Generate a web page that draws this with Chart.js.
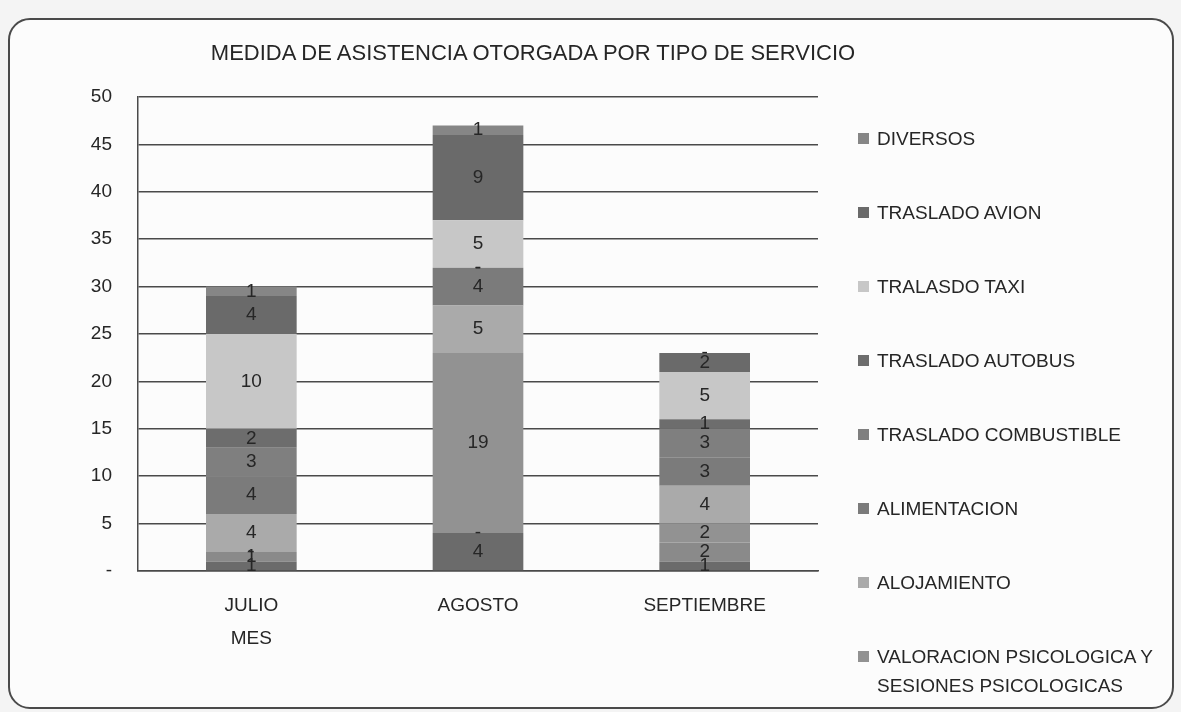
<!DOCTYPE html>
<html lang="es">
<head>
<meta charset="utf-8">
<title>Medida de asistencia otorgada por tipo de servicio</title>
<script src="https://cdn.jsdelivr.net/npm/chart.js@4.4.1/dist/chart.umd.min.js"></script>
<style>
    html, body { margin: 0; padding: 0; background: #f4f4f4; }
    #marco { position: absolute; left: 0; top: 0; width: 1181px; height: 712px; overflow: hidden;
             font-family: "Liberation Sans", Arial, sans-serif; color: #262626; }
    #borde { position: absolute; left: 8px; top: 18px; width: 1162px; height: 687px;
             border: 2px solid #4a4a4a; border-radius: 22px; background: #fcfcfc; }
    #grafico { position: absolute; left: 0; top: 0; }
    #titulo { position: absolute; left: 0; width: 1066px; top: 41px; text-align: center;
              font-size: 22px; line-height: 24px; }
    .item { position: absolute; left: 858px; display: flex; align-items: flex-start;
            font-size: 19px; line-height: 29px; }
    .item i { flex: none; display: block; width: 11px; height: 11px; margin: 9px 8px 0 0; }
</style>
</head>
<body>
<div id="marco">
    <div id="borde"></div>
    <canvas id="grafico" width="1181" height="712"></canvas>
    <div id="titulo">MEDIDA DE ASISTENCIA OTORGADA POR TIPO DE SERVICIO</div>
    <div id="leyenda"></div>
</div>
<script>
    // ---------------- Datos ----------------
    const meses = [['JULIO', 'MES'], 'AGOSTO', 'SEPTIEMBRE'];

    // series de abajo hacia arriba (las dos primeras no aparecen en la leyenda original)
    const serieA        = [1, 4, 1];
    const serieB        = [1, 0, 2];
    const valoracion    = [0, 19, 2];
    const alojamiento   = [4, 5, 4];
    const alimentacion  = [4, 4, 3];
    const combustible   = [3, 0, 3];
    const autobus       = [2, 0, 1];
    const taxi          = [10, 5, 5];
    const avion         = [4, 9, 2];
    const diversos      = [1, 1, 0];

    const nombres = ['', '', 'VALORACION PSICOLOGICA Y SESIONES PSICOLOGICAS', 'ALOJAMIENTO', 'ALIMENTACION',
                     'TRASLADO COMBUSTIBLE', 'TRASLADO AUTOBUS', 'TRALASDO TAXI', 'TRASLADO AVION', 'DIVERSOS'];
    const valores = [serieA, serieB, valoracion, alojamiento, alimentacion, combustible, autobus, taxi, avion, diversos];

    const yTicks = [0, 5, 10, 15, 20, 25, 30, 35, 40, 45, 50];

    // ---------------- Estilo ----------------
    const grises = ['#6b6b6b', '#8a8a8a', '#929292', '#aaaaaa', '#7b7b7b',
                    '#7f7f7f', '#6d6d6d', '#c7c7c7', '#6a6a6a', '#868686'];
    const texto = '#262626';
    const linea = '#4a4a4a';
    const fuente = '"Liberation Sans", Arial, sans-serif';

    // etiquetas de valor dentro de cada segmento ("-" para cero, como en Excel)
    const etiquetasValor = {
        id: 'etiquetasValor',
        afterDatasetsDraw(chart) {
            const ctx = chart.ctx;
            ctx.save();
            ctx.font = `19px ${fuente}`;
            ctx.fillStyle = texto;
            ctx.textAlign = 'center';
            ctx.textBaseline = 'middle';
            chart.data.datasets.forEach((ds, i) => {
                chart.getDatasetMeta(i).data.forEach((barra, j) => {
                    const v = ds.data[j];
                    ctx.fillText(v === 0 ? '-' : String(v), barra.x, (barra.y + barra.base) / 2);
                });
            });
            ctx.restore();
        }
    };

    new Chart(document.getElementById('grafico'), {
        type: 'bar',
        data: {
            labels: meses,
            datasets: valores.map((d, i) => ({
                label: nombres[i],
                data: d,
                backgroundColor: grises[i],
                borderWidth: 0,
                barPercentage: 0.4,
                categoryPercentage: 1
            }))
        },
        options: {
            responsive: false,
            animation: false,
            layout: { padding: { top: 97, right: 363, bottom: 31, left: 0 } },
            plugins: { legend: { display: false }, tooltip: { enabled: false } },
            scales: {
                x: {
                    stacked: true,
                    grid: { display: false },
                    border: { color: linea, width: 1.5 },
                    ticks: { color: texto, font: { family: fuente, size: 19, lineHeight: 1.75 }, padding: 10 },
                    afterFit: s => { s.height = 110; }
                },
                y: {
                    stacked: true,
                    min: 0,
                    max: 50,
                    afterBuildTicks: s => { s.ticks = yTicks.map(v => ({ value: v })); },
                    ticks: {
                        color: texto,
                        font: { family: fuente, size: 19 },
                        padding: 26,
                        callback: v => v === 0 ? '-' : v
                    },
                    grid: { color: linea, lineWidth: 1.5, drawTicks: false },
                    border: { color: linea, width: 1.5 },
                    afterFit: s => { s.width = 138; }
                }
            }
        },
        plugins: [etiquetasValor]
    });

    // ---------------- Leyenda ----------------
    const leyenda = document.getElementById('leyenda');
    let fila = 0;
    for (let i = nombres.length - 1; i >= 0; i--) {
        if (!nombres[i]) continue;
        const top = 124 + fila * 74;
        const textoItem = nombres[i] === 'VALORACION PSICOLOGICA Y SESIONES PSICOLOGICAS'
            ? 'VALORACION PSICOLOGICA Y<br>SESIONES PSICOLOGICAS' : nombres[i];
        leyenda.innerHTML += `<div class="item" style="top:${top}px"><i style="background:${grises[i]}"></i><span>${textoItem}</span></div>`;
        fila++;
    }
</script>
</body>
</html>
